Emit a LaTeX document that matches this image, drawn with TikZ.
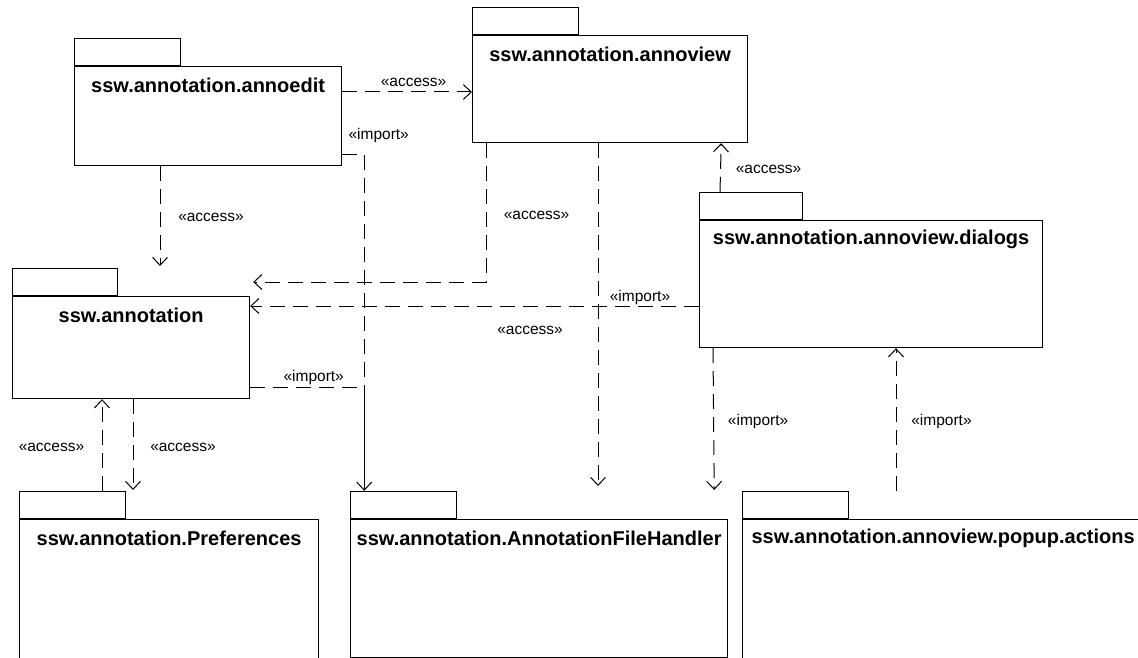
\documentclass[tikz,border=0pt]{standalone}
\usepackage{fontspec}
\setmainfont{Liberation Sans}
\usetikzlibrary{arrows.meta,positioning}

\begin{document}
\begin{tikzpicture}[x=1pt,y=-1pt,
		pkg/.style={draw,line width=1.2pt,inner sep=0pt,anchor=north west},
		pkgtab/.style={draw,line width=1.2pt,inner sep=0pt,minimum width=106pt,minimum height=27pt,anchor=south west},
		pkgname/.style={font=\fontsize{20}{24}\selectfont\bfseries,inner sep=0pt},
		dep/.style={line width=1pt,dash pattern=on 15pt off 8pt,-{Straight Barb[length=8pt,width=15pt]}},
		lbl/.style={font=\fontsize{15.5}{18}\selectfont,inner sep=0pt}]
		\useasboundingbox (0,0) rectangle (1138,658);
		\clip (0,0) rectangle (1138,658);

		\node[pkg,minimum width=267pt,minimum height=99pt] (edit) at (74,66) {};
		\node[pkgtab] (edittab) at (edit.north west) {};
		\node[pkgname] (editname) at ([yshift=-19pt]edit.north) {ssw.annotation.annoedit};

		\node[pkg,minimum width=275pt,minimum height=107pt] (view) at (472,35) {};
		\node[pkgtab] (viewtab) at (view.north west) {};
		\node[pkgname] (viewname) at ([yshift=-19pt]view.north) {ssw.annotation.annoview};

		\node[pkg,minimum width=343pt,minimum height=127pt] (dlg) at (699,220) {};
		\node[pkgtab,minimum width=103pt] (dlgtab) at (dlg.north west) {};
		\node[pkgname] (dlgname) at ([yshift=-19pt]dlg.north) {ssw.annotation.annoview.dialogs};

		\node[pkg,minimum width=237pt,minimum height=102pt] (anno) at (12,296) {};
		\node[pkgtab,minimum width=105pt] (annotab) at (anno.north west) {};
		\node[pkgname] (annoname) at ([yshift=-19pt]anno.north) {ssw.annotation};

		\node[pkg,minimum width=299pt,minimum height=171pt] (pref) at (19,519) {};
		\node[pkgtab] (preftab) at (pref.north west) {};
		\node[pkgname] (prefname) at ([yshift=-19pt]pref.north) {ssw.annotation.Preferences};

		\node[pkg,minimum width=377pt,minimum height=138pt] (fh) at (350,519) {};
		\node[pkgtab] (fhtab) at (fh.north west) {};
		\node[pkgname] (fhname) at ([yshift=-19pt]fh.north) {ssw.annotation.AnnotationFileHandler};

		\node[pkg,minimum width=401pt,minimum height=171pt] (popup) at (742,519) {};
		\node[pkgtab] (popuptab) at (popup.north west) {};
		\node[pkgname] (popupname) at ([yshift=-19pt]popup.north) {ssw.annotation.annoview.popup.actions};

		\coordinate (jimp) at ([xshift=114pt,yshift=12pt]anno.south east);

		\draw[dep] ([yshift=-26pt]edit.north east) -- ([yshift=-57pt]view.north west) node[lbl,midway,xshift=6.5pt,yshift=10pt] {«access»};
		\draw[dep,-] ([yshift=12pt]edit.south east) -| (jimp) node[lbl,at start,xshift=36.5pt,yshift=19pt] {«import»};
		\draw[dep,-] ([yshift=12pt]anno.south east) -- (jimp) node[lbl,midway,xshift=6.5pt,yshift=10pt] {«import»};
		\draw[dep,solid] (jimp) -- (fhtab.north -| jimp);
		\draw[dep] ([xshift=86pt]edit.south west) -- ([xshift=148pt,yshift=30pt]anno.north west) node[lbl,midway,xshift=51pt,yshift=-1.5pt] {«access»};
		\draw[dep] ([xshift=14pt]view.south west) |- ([xshift=3pt,yshift=14pt]anno.north east) node[lbl,pos=0.25,xshift=50.5pt,yshift=-3pt] {«access»};
		\draw[dep] ([yshift=-86pt]dlg.north west) -- ([yshift=-10pt]anno.north east) node[lbl,at start,xshift=-59pt,yshift=9pt] {«import»};
		\draw[dep] ([xshift=126pt]view.south west) -- ([xshift=248pt,yshift=33pt]fh.north west) node[lbl,midway,xshift=-68pt,yshift=-16pt] {«access»};
		\draw[dep] ([xshift=21pt]dlgtab.north west) -- ([xshift=-27pt]view.south east) node[lbl,midway,xshift=48pt,yshift=-1.5pt] {«access»};
		\draw[dep] ([xshift=14pt]dlg.south west) -- ([xshift=-14pt,yshift=29pt]fh.north east) node[lbl,midway,xshift=44.5pt,yshift=-2.5pt] {«import»};
		\draw[dep] ([xshift=154pt,yshift=28pt]popup.north west) -- ([xshift=197pt]dlg.south west) node[lbl,midway,xshift=45.5pt,yshift=-2pt] {«import»};
		\draw[dep] ([xshift=121pt]anno.south west) -- ([xshift=114pt,yshift=29pt]pref.north west) node[lbl,midway,xshift=50pt,yshift=-3pt] {«access»};
		\draw[dep] ([xshift=83pt]preftab.north west) -- ([xshift=90pt]anno.south west) node[lbl,midway,xshift=-50.5pt,yshift=-2pt] {«access»};
	\end{tikzpicture}
\end{document}
